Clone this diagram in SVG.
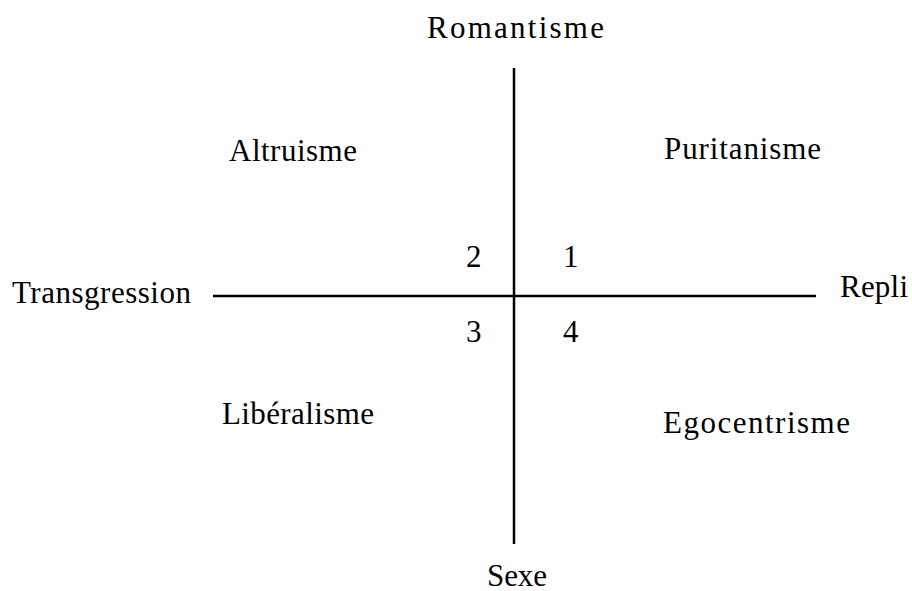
<svg xmlns="http://www.w3.org/2000/svg" width="912" height="591" viewBox="0 0 912 591">
<style>
text{font-family:"Liberation Serif","Times New Roman",serif;font-size:31px;fill:#000}
.ax{stroke:#000;stroke-width:2.5;fill:none}
</style>
<rect width="912" height="591" fill="#fff"/>
<g id="connectors">
<line class="ax" x1="514" y1="68" x2="514" y2="544"/>
<line class="ax" x1="213" y1="296" x2="816" y2="296"/>
</g>
<g id="romantisme"><text x="427" y="38" textLength="177" lengthAdjust="spacing">Romantisme</text></g>
<g id="altruisme"><text x="229" y="161" textLength="128" lengthAdjust="spacing">Altruisme</text></g>
<g id="puritanisme"><text x="664" y="159" textLength="157" lengthAdjust="spacing">Puritanisme</text></g>
<g id="transgression"><text x="12" y="303" textLength="179" lengthAdjust="spacing">Transgression</text></g>
<g id="repli"><text x="840" y="297" textLength="68" lengthAdjust="spacing">Repli</text></g>
<g id="q2"><text x="466" y="267">2</text></g>
<g id="q1"><text x="563" y="267">1</text></g>
<g id="q3"><text x="466" y="342">3</text></g>
<g id="q4"><text x="563" y="342">4</text></g>
<g id="liberalisme"><text x="222" y="424" textLength="152" lengthAdjust="spacing">Libéralisme</text></g>
<g id="egocentrisme"><text x="663" y="433" textLength="187" lengthAdjust="spacing">Egocentrisme</text></g>
<g id="sexe"><text x="487" y="586" textLength="60" lengthAdjust="spacing">Sexe</text></g>
</svg>
